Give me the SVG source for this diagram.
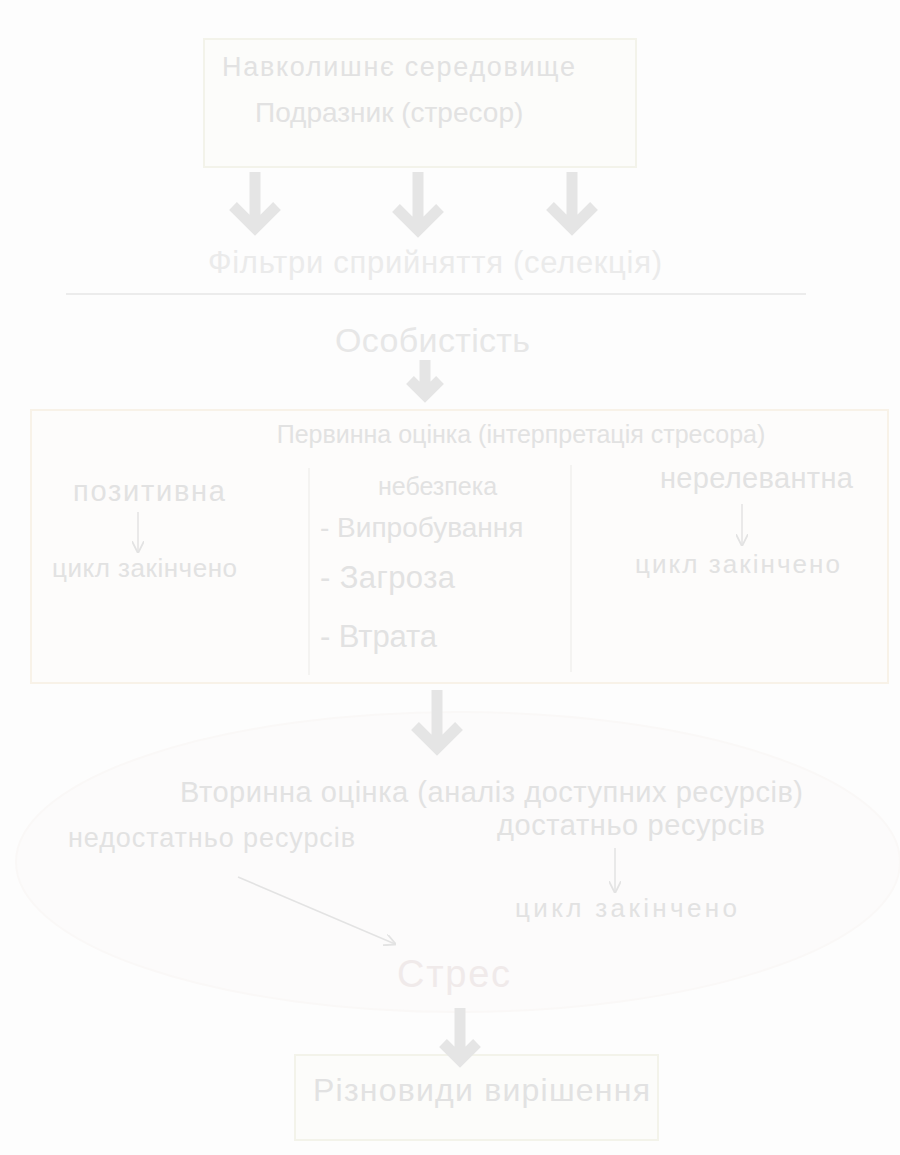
<svg xmlns="http://www.w3.org/2000/svg" width="900" height="1155" viewBox="0 0 900 1155">
<defs>
<style>
text{font-family:"Liberation Sans","DejaVu Sans",sans-serif;fill:#e2e2e2;}
.t30{font-size:28px;}
.t28{font-size:27px;}
.t26{font-size:26px;}
.t20{font-size:26px;}
.box{fill:#fcfcfa;stroke:#f3f3ea;stroke-width:2;}
.big{stroke:#e5e5e5;stroke-width:11;fill:none;stroke-linecap:butt;}
.thin{stroke:#e3e3e3;stroke-width:1.5;fill:none;}
</style>
<marker id="open" viewBox="0 0 10 10" refX="9" refY="5" markerWidth="12" markerHeight="12" markerUnits="userSpaceOnUse" orient="auto">
<path d="M0,0 L10,5 L0,10" fill="none" stroke="#e3e3e3" stroke-width="1.5"/>
</marker>
</defs>
<rect width="900" height="1155" fill="#fdfdfd"/>

<g id="environment">
<rect class="box" x="204" y="39" width="432" height="128"/>
<text x="222" y="76" class="t28" textLength="353" lengthAdjust="spacing">Навколишнє середовище</text>
<text x="255" y="122" class="t30">Подразник (стресор)</text>
</g>

<g id="filters">
<text x="208" y="273" font-size="31" textLength="454" lengthAdjust="spacing" style="fill:#ebebeb">Фільтри сприйняття (селекція)</text>
<line x1="66" y1="294" x2="806" y2="294" stroke="#ececec" stroke-width="2"/>
</g>

<g id="personality">
<text x="335" y="352" font-size="34" textLength="195" lengthAdjust="spacing" style="fill:#e7e7e7">Особистість</text>
</g>

<g id="primary">
<rect x="31" y="410" width="857" height="273" fill="#fdfcfb" stroke="#f8f2e8" stroke-width="2"/>
<text x="521" y="443" font-size="25" text-anchor="middle">Первинна оцінка (інтерпретація стресора)</text>
<line x1="309" y1="468" x2="309" y2="675" stroke="#f1f1ee" stroke-width="1.5"/>
<line x1="571" y1="465" x2="571" y2="672" stroke="#f1f1ee" stroke-width="1.5"/>
<text x="73" y="501" font-size="29" textLength="152" lengthAdjust="spacing">позитивна</text>
<text x="52" y="577" class="t20" textLength="185" lengthAdjust="spacing">цикл закінчено</text>
<text x="378" y="495" font-size="25">небезпека</text>
<text x="320" y="537" font-size="28">- Випробування</text>
<text x="320" y="588" font-size="31" textLength="135" lengthAdjust="spacing">- Загроза</text>
<text x="320" y="647" font-size="31" textLength="117" lengthAdjust="spacing">- Втрата</text>
<text x="660" y="488" font-size="29" textLength="193" lengthAdjust="spacing">нерелевантна</text>
<text x="635" y="573" class="t20" textLength="205" lengthAdjust="spacing">цикл закінчено</text>
</g>

<g id="secondary">
<ellipse cx="458" cy="862" rx="442" ry="150" fill="#fcfbfb" stroke="#faf8f7" stroke-width="2"/>
<text x="180" y="802" font-size="29" textLength="623" lengthAdjust="spacing">Вторинна оцінка (аналіз доступних ресурсів)</text>
<text x="68" y="847" class="t28" textLength="287" lengthAdjust="spacing">недостатньо ресурсів</text>
<text x="497" y="835" font-size="29" textLength="268" lengthAdjust="spacing">достатньо ресурсів</text>
<text x="515" y="917" class="t20" textLength="222" lengthAdjust="spacing">цикл закінчено</text>
</g>

<g id="stress">
<text x="397" y="987" font-size="38" textLength="113" lengthAdjust="spacing" style="fill:#f0eaea">Стрес</text>
</g>

<g id="resolution">
<rect class="box" x="295" y="1055" width="363" height="85"/>
<text x="313" y="1101" font-size="32" textLength="337" lengthAdjust="spacing">Різновиди вирішення</text>
</g>

<g id="connectors">
<path class="big" d="M255,172 V228 M233,206 L255,228 L277,206"/>
<path class="big" d="M418,172 V230 M396,208 L418,230 L440,208"/>
<path class="big" d="M572,172 V228 M550,206 L572,228 L594,206"/>
<path class="big" d="M425,360 V395 M410,380 L425,395 L440,380"/>
<path class="big" d="M437,690 V748 M415,726 L437,748 L459,726"/>
<path class="big" d="M460,1008 V1060 M443,1043 L460,1060 L477,1043"/>
<line class="thin" x1="138" y1="512" x2="138" y2="552" marker-end="url(#open)"/>
<line class="thin" x1="742" y1="504" x2="742" y2="545" marker-end="url(#open)"/>
<line class="thin" x1="615" y1="848" x2="615" y2="892" marker-end="url(#open)"/>
<line class="thin" x1="238" y1="877" x2="395" y2="944" marker-end="url(#open)"/>
</g>
</svg>
